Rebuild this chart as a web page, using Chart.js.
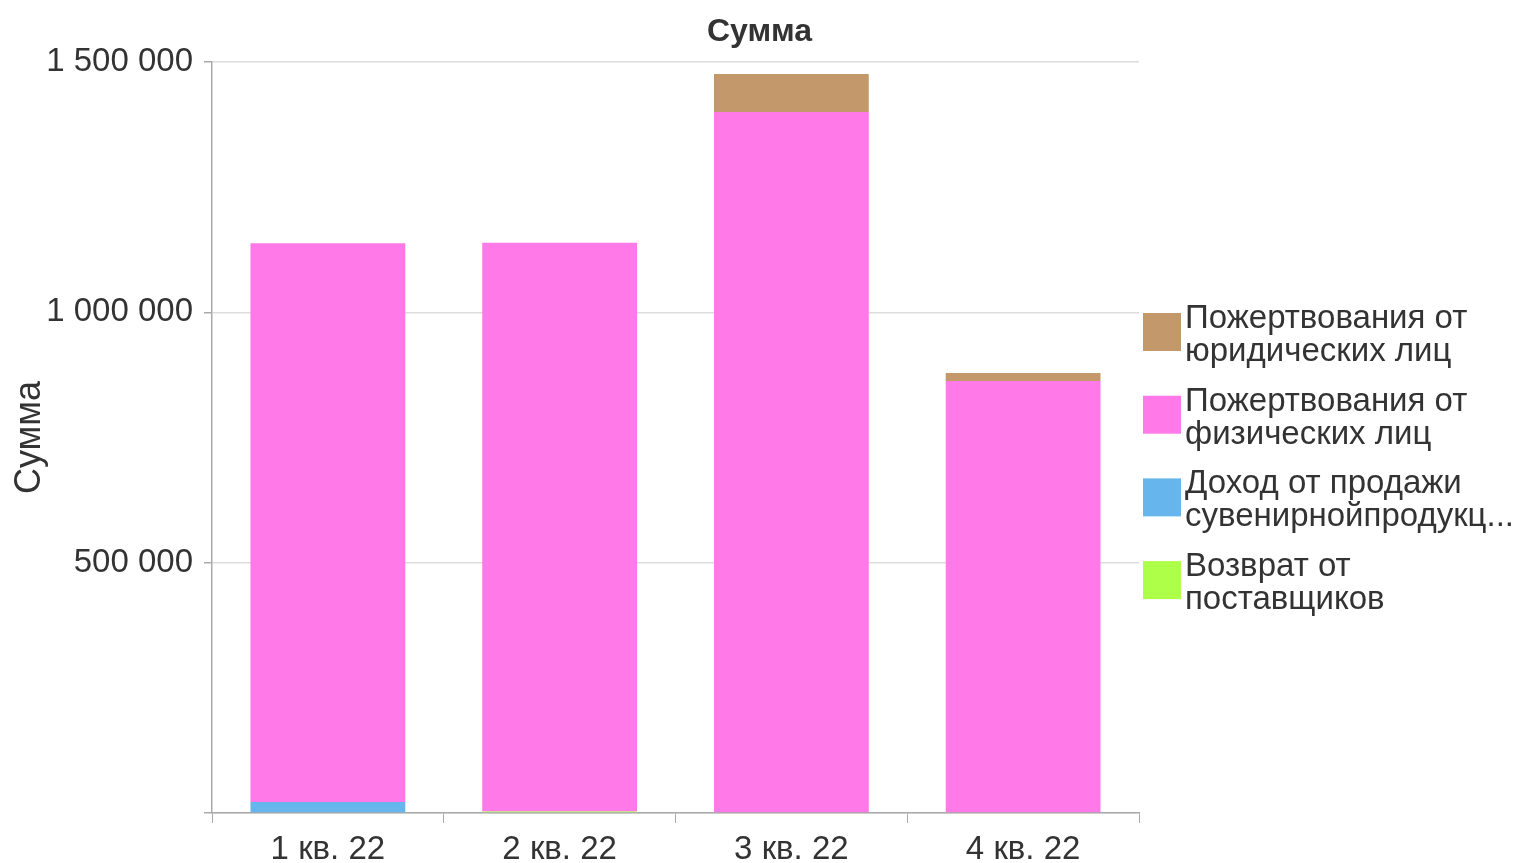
<!DOCTYPE html>
<html lang="ru">
<head>
<meta charset="utf-8">
<title>Сумма</title>
<script src="https://cdn.jsdelivr.net/npm/chart.js@4"></script>
<style>
  html, body { margin: 0; padding: 0; background: #fff; }
  #wrap { width: 1519px; height: 863px; }
</style>
</head>
<body>
<div id="wrap"><canvas id="chart"></canvas></div>
<script>
// data
const quarters = ['1 кв. 22', '2 кв. 22', '3 кв. 22', '4 кв. 22'];
const legalDonations = [0, 0, 76000, 16000];
const privateDonations = [1116000, 1136000, 1400000, 863000];
const souvenirSales = [22000, 0, 0, 0];
const supplierReturns = [0, 3000, 0, 0];

const FONT = "'Liberation Sans', Arial, sans-serif";
const TEXT = '#333333';

function fmt(v) {
    return String(v).replace(/\B(?=(\d{3})+(?!\d))/g, ' ');
}

// legend drawn by hand: the built-in one can't place two-line labels like this
const sideLegend = {
    id: 'sideLegend',
    afterDraw(chart) {
        const ctx = chart.ctx;
        const left = chart.chartArea.right + 4;
        const sets = chart.data.datasets.slice().reverse();
        ctx.save();
        ctx.font = '33px ' + FONT;
        ctx.textBaseline = 'alphabetic';
        sets.forEach((ds, i) => {
            const top = 313 + i * 82.7;
            ctx.fillStyle = ds.backgroundColor;
            ctx.fillRect(left, top, 38, 38);
            ctx.fillStyle = TEXT;
            ds.legendLines.forEach((line, j) => {
                ctx.fillText(line, left + 42, top + 15 + j * 33);
            });
        });
        ctx.restore();
    }
};

new Chart(document.getElementById('chart'), {
    type: 'bar',
    data: {
        labels: quarters,
        datasets: [
            {
                label: 'Возврат от поставщиков',
                legendLines: ['Возврат от', 'поставщиков'],
                data: supplierReturns,
                backgroundColor: '#aeff47'
            },
            {
                label: 'Доход от продажи сувенирнойпродукц...',
                legendLines: ['Доход от продажи', 'сувенирнойпродукц...'],
                data: souvenirSales,
                backgroundColor: '#66b6ed'
            },
            {
                label: 'Пожертвования от физических лиц',
                legendLines: ['Пожертвования от', 'физических лиц'],
                data: privateDonations,
                backgroundColor: '#ff7ae8'
            },
            {
                label: 'Пожертвования от юридических лиц',
                legendLines: ['Пожертвования от', 'юридических лиц'],
                data: legalDonations,
                backgroundColor: '#c3996b'
            }
        ]
    },
    options: {
        responsive: true,
        maintainAspectRatio: false,
        animation: false,
        layout: { padding: 0 },
        datasets: {
            bar: { categoryPercentage: 1, barPercentage: 0.668 }
        },
        plugins: {
            legend: { display: false },
            tooltip: { enabled: false },
            title: {
                display: true,
                text: 'Сумма',
                color: TEXT,
                font: { family: FONT, size: 32, weight: 'bold' },
                padding: { top: 13, bottom: 10.6 }
            }
        },
        scales: {
            x: {
                stacked: true,
                grid: {
                    offset: true,
                    drawOnChartArea: false,
                    color: '#aaaaaa',
                    tickLength: 10
                },
                border: { color: '#aaaaaa', width: 1.5 },
                ticks: {
                    color: TEXT,
                    font: { family: FONT, size: 33 },
                    padding: 7,
                    maxRotation: 0
                },
                afterFit(s) { s.height = 50; }
            },
            y: {
                stacked: true,
                min: 0,
                max: 1500000,
                grid: {
                    color: '#dddddd',
                    tickColor: '#aaaaaa',
                    tickLength: 8,
                    lineWidth: 1.5
                },
                border: { color: '#aaaaaa', width: 1.5 },
                ticks: {
                    stepSize: 500000,
                    color: TEXT,
                    font: { family: FONT, size: 33 },
                    padding: 11,
                    callback: v => (v === 0 ? '' : fmt(v))
                },
                title: {
                    display: true,
                    text: 'Сумма',
                    color: TEXT,
                    font: { family: FONT, size: 36 },
                    padding: { top: 8, bottom: 0 }
                },
                afterFit(s) { s.width = 212; }
            },
            spacer: {
                position: 'right',
                display: true,
                grid: { display: false },
                border: { display: false },
                ticks: { display: false },
                afterFit(s) { s.width = 380; }
            }
        }
    },
    plugins: [sideLegend]
});
</script>
</body>
</html>
